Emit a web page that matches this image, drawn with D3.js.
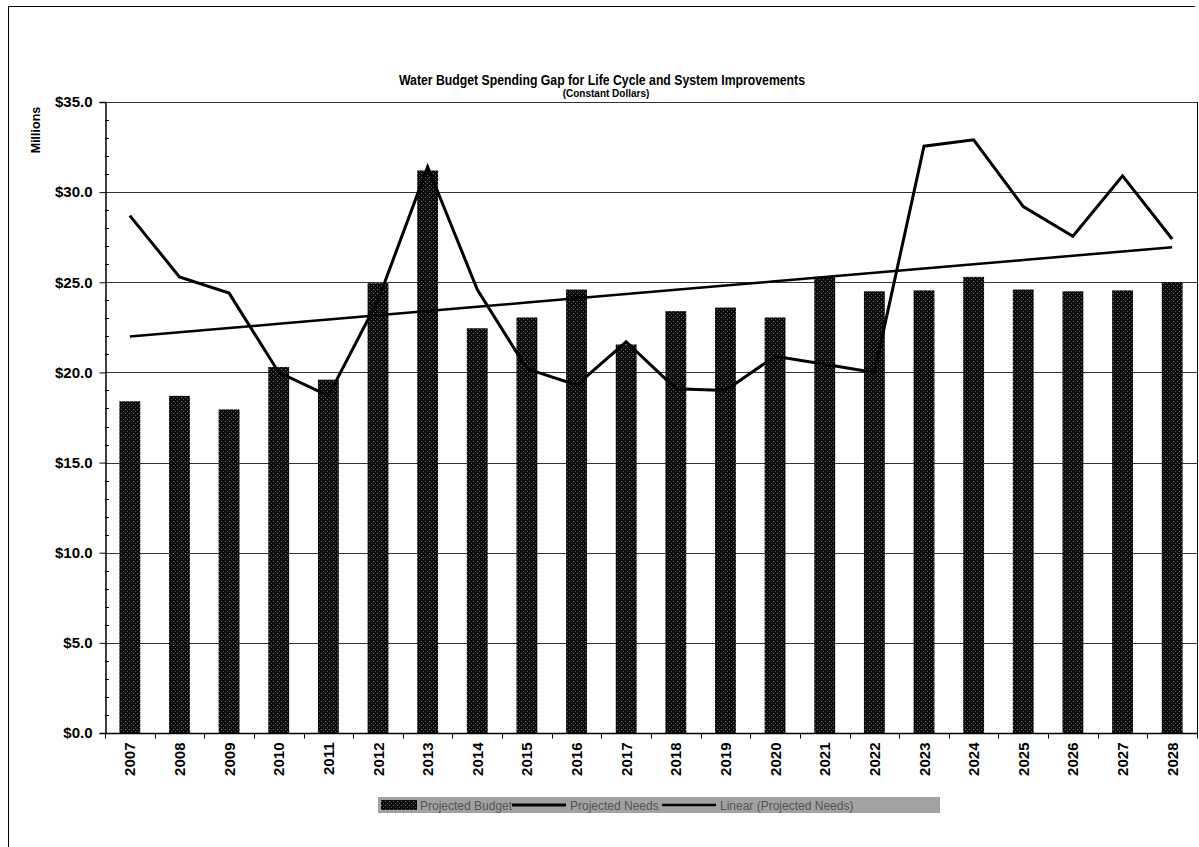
<!DOCTYPE html>
<html>
<head>
<meta charset="utf-8">
<script src="https://cdn.jsdelivr.net/npm/d3@7"></script>
<style>
  html, body { margin: 0; padding: 0; background: #fff; }
  svg { display: block; }
  text { font-family: "Liberation Sans", Arial, sans-serif; }
</style>
</head>
<body>
<svg id="chart" width="1199" height="847"></svg>
<script>
// ---- Data ----
const years = ["2007","2008","2009","2010","2011","2012","2013","2014","2015","2016","2017",
               "2018","2019","2020","2021","2022","2023","2024","2025","2026","2027","2028"];
const projectedBudget = [18.4, 18.7, 17.95, 20.3, 19.6, 24.95, 31.2, 22.45, 23.05, 24.6, 21.55,
                         23.4, 23.6, 23.05, 25.3, 24.5, 24.55, 25.3, 24.6, 24.5, 24.55, 25.0];
const projectedNeeds  = [28.7, 25.3, 24.4, 20.0, 18.7, 24.0, 31.4, 24.6, 20.2, 19.3, 21.7,
                         19.1, 19.0, 20.9, 20.45, 20.0, 32.55, 32.9, 29.2, 27.55, 30.9, 27.4];
const yTicks = [0, 5, 10, 15, 20, 25, 30, 35];
const titleText = "Water Budget Spending Gap for Life Cycle and System Improvements";
const subtitleText = "(Constant Dollars)";
const yAxisTitle = "Millions";
const legendLabels = ["Projected Budget", "Projected Needs", "Linear (Projected Needs)"];

(function () {
// Linear trend (least squares) of projected needs
const n = projectedNeeds.length;
const xMean = (n - 1) / 2;
const yMean = d3.mean(projectedNeeds);
let sxy = 0, sxx = 0;
projectedNeeds.forEach((v, i) => { sxy += (i - xMean) * (v - yMean); sxx += (i - xMean) ** 2; });
const slope = sxy / sxx;
const intercept = yMean - slope * xMean;
const trend = years.map((yr, i) => intercept + slope * i);

// ---- Layout ----
const svg = d3.select("#chart");
const pLeft = 105, pRight = 1197, pTop = 102, pBottom = 733;

const x = d3.scaleBand().domain(years).range([pLeft, pRight]).paddingInner(0.58).paddingOuter(0.29);
const y = d3.scaleLinear().domain([0, 35]).range([pBottom, pTop]);
const cx = d => x(d) + x.bandwidth() / 2;

// pattern for stippled bars
const defs = svg.append("defs");
const pat = defs.append("pattern").attr("id", "stipple").attr("patternUnits", "userSpaceOnUse")
  .attr("width", 4).attr("height", 4);
pat.append("rect").attr("width", 4).attr("height", 4).attr("fill", "#0a0a0a");
pat.append("rect").attr("x", 1).attr("y", 1).attr("width", 1).attr("height", 1).attr("fill", "#fff").attr("opacity", 0.45);
pat.append("rect").attr("x", 3).attr("y", 3).attr("width", 1).attr("height", 1).attr("fill", "#fff").attr("opacity", 0.3);

// outer frame
svg.append("line").attr("x1", 8).attr("x2", 1195).attr("y1", 6.5).attr("y2", 6.5).attr("stroke", "#000").attr("stroke-width", 1);
svg.append("line").attr("x1", 8.5).attr("x2", 8.5).attr("y1", 6).attr("y2", 847).attr("stroke", "#000").attr("stroke-width", 1);

// title
svg.append("text").attr("x", 602).attr("y", 85).attr("text-anchor", "middle")
  .attr("font-size", 15.5).attr("font-weight", "bold").attr("textLength", 406).attr("lengthAdjust", "spacingAndGlyphs")
  .text(titleText);
svg.append("text").attr("x", 606).attr("y", 97).attr("text-anchor", "middle")
  .attr("font-size", 10).attr("font-weight", "bold").text(subtitleText);

// gridlines
svg.append("g").selectAll("line").data(yTicks.filter(t => t > 0)).join("line")
  .attr("x1", pLeft).attr("x2", pRight)
  .attr("y1", d => Math.round(y(d)) + 0.5).attr("y2", d => Math.round(y(d)) + 0.5)
  .attr("stroke", "#333").attr("stroke-width", 1);

// right border
svg.append("line").attr("x1", pRight + 0.5).attr("x2", pRight + 0.5).attr("y1", pTop).attr("y2", pBottom)
  .attr("stroke", "#000").attr("stroke-width", 1);

// bars
svg.append("g").selectAll("rect").data(years).join("rect")
  .attr("x", d => x(d)).attr("width", x.bandwidth())
  .attr("y", (d, i) => y(projectedBudget[i]))
  .attr("height", (d, i) => y(0) - y(projectedBudget[i]))
  .attr("fill", "url(#stipple)");

// y axis
const yAxis = d3.axisLeft(y).tickValues(yTicks).tickFormat(d => "$" + d3.format(".1f")(d)).tickSize(6).tickPadding(7);
const gy = svg.append("g").attr("transform", `translate(${pLeft + 0.5},0)`).call(yAxis);
gy.select(".domain").attr("stroke", "#000").attr("stroke-width", 1.5);
gy.selectAll("text").attr("font-size", 15).attr("font-weight", "bold").attr("fill", "#000")
  .attr("font-family", "'Liberation Sans', Arial, sans-serif");
// minor ticks inside
const minor = d3.range(0, 35.001, 1).filter(v => v % 5 !== 0);
svg.append("g").selectAll("line").data(minor).join("line")
  .attr("x1", pLeft).attr("x2", pLeft + 4)
  .attr("y1", d => Math.round(y(d)) + 0.5).attr("y2", d => Math.round(y(d)) + 0.5)
  .attr("stroke", "#000").attr("stroke-width", 1);

// y axis title
svg.append("text").attr("transform", "translate(40,130) rotate(-90)").attr("text-anchor", "middle")
  .attr("font-size", 12.5).attr("font-weight", "bold").text(yAxisTitle);

// x axis
const gx = svg.append("g").attr("transform", `translate(0,${pBottom + 0.5})`);
gx.append("line").attr("x1", pLeft).attr("x2", pRight + 1).attr("stroke", "#000").attr("stroke-width", 1.5);
const boundaries = years.map(d => x(d) - x.step() * x.paddingInner() / 2).concat([pRight]);
gx.selectAll("line.tick").data(boundaries).join("line").attr("class", "tick")
  .attr("x1", d => Math.round(d) + 0.5).attr("x2", d => Math.round(d) + 0.5)
  .attr("y1", 0).attr("y2", 5).attr("stroke", "#000");
gx.selectAll("text").data(years).join("text")
  .attr("transform", d => `translate(${cx(d) + 5.5},${9}) rotate(-90)`)
  .attr("text-anchor", "end").attr("font-size", 15).attr("font-weight", "bold").text(d => d);

// projected needs line
svg.append("path").datum(projectedNeeds)
  .attr("d", d3.line().x((d, i) => cx(years[i])).y(d => y(d)))
  .attr("fill", "none").attr("stroke", "#000").attr("stroke-width", 3).attr("stroke-linejoin", "miter");

// trend line
svg.append("path").datum(trend)
  .attr("d", d3.line().x((d, i) => cx(years[i])).y(d => y(d)))
  .attr("fill", "none").attr("stroke", "#000").attr("stroke-width", 2.5);

// legend
const lg = svg.append("g");
lg.append("rect").attr("x", 378).attr("y", 797).attr("width", 562).attr("height", 16).attr("fill", "#a2a2a2");
lg.append("rect").attr("x", 381).attr("y", 800).attr("width", 36).attr("height", 10).attr("fill", "url(#stipple)");
lg.append("text").attr("x", 420).attr("y", 810).attr("font-size", 12).attr("fill", "#555").text(legendLabels[0]);
lg.append("line").attr("x1", 512).attr("x2", 566).attr("y1", 805).attr("y2", 805).attr("stroke", "#000").attr("stroke-width", 3);
lg.append("text").attr("x", 570).attr("y", 810).attr("font-size", 12).attr("fill", "#555").text(legendLabels[1]);
lg.append("line").attr("x1", 662).attr("x2", 716).attr("y1", 805).attr("y2", 805).attr("stroke", "#000").attr("stroke-width", 2.5);
lg.append("text").attr("x", 720).attr("y", 810).attr("font-size", 12).attr("fill", "#555").text(legendLabels[2]);
})();
</script>
</body>
</html>
